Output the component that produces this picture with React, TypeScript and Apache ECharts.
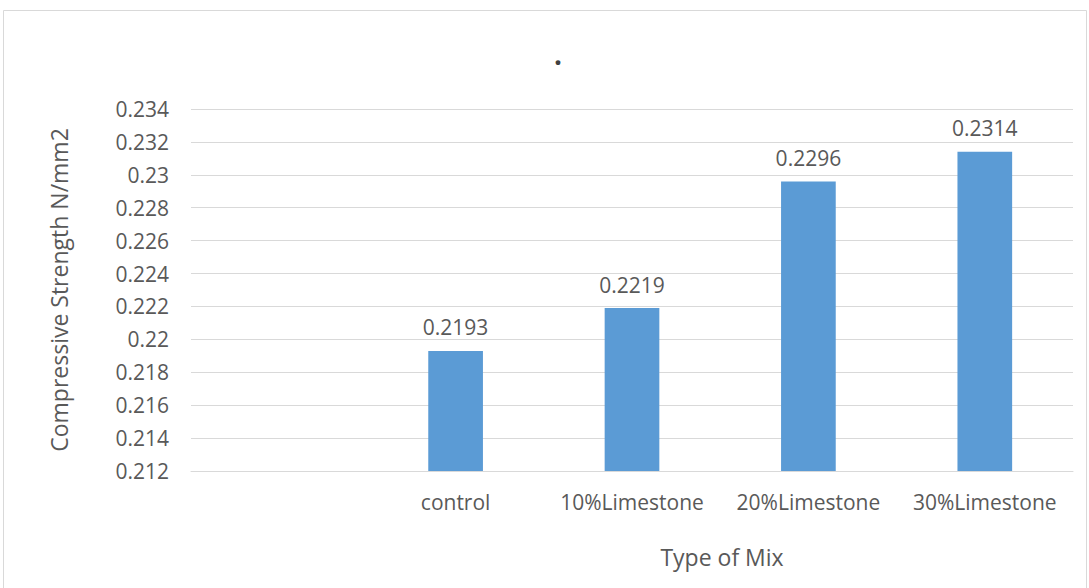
import React, { useEffect, useRef } from "react";
import * as echarts from "echarts";

const categories = ["", "control", "10%Limestone", "20%Limestone", "30%Limestone"];
const strengths: (number | null)[] = [null, 0.2193, 0.2219, 0.2296, 0.2314];
const yMin = 0.212;
const yMax = 0.234;
const yStep = 0.002;

const FONT = "'Open Sans', sans-serif";
const TEXT = "#595959";

export default function App() {
  const ref = useRef<HTMLDivElement>(null);
  useEffect(() => {
    if (!ref.current) return;
    const chart = echarts.init(ref.current, undefined, { renderer: "svg" });
    chart.setOption({
      animation: false,
      backgroundColor: "#ffffff",
      title: {
        text: ".",
        left: 553,
        top: 35,
        textAlign: "center",
        textStyle: { fontFamily: FONT, fontSize: 28, fontWeight: "bold", color: "#404040" },
      },
      graphic: [
        {
          type: "rect",
          shape: { x: 3.5, y: 10.5, width: 1083, height: 620 },
          style: { fill: "none", stroke: "#d9d9d9", lineWidth: 1 },
          silent: true,
          z: -10,
        },
        {
          type: "text",
          x: 722,
          y: 557,
          style: {
            text: "Type of Mix",
            fontFamily: FONT,
            fontSize: 23,
            fill: TEXT,
            align: "center",
            verticalAlign: "middle",
          },
        },
      ],
      grid: { left: 191, right: 16, top: 109, bottom: 117, containLabel: false },
      xAxis: {
        type: "category",
        data: categories,
        axisLine: { show: true, lineStyle: { color: "#d9d9d9", width: 1 } },
        axisTick: { show: false },
        axisLabel: { fontFamily: FONT, fontSize: 21, color: TEXT, margin: 20, interval: 0 },
        splitLine: { show: false },
      },
      yAxis: {
        type: "value",
        min: yMin,
        max: yMax,
        interval: yStep,
        name: "Compressive Strength N/mm2",
        nameLocation: "middle",
        nameGap: 121,
        nameTextStyle: { fontFamily: FONT, fontSize: 23, color: TEXT },
        axisLine: { show: false },
        axisTick: { show: false },
        axisLabel: {
          fontFamily: FONT,
          fontSize: 21,
          color: TEXT,
          margin: 22,
          formatter: (v: number) => String(parseFloat(v.toFixed(4))),
        },
        splitLine: { lineStyle: { color: "#d9d9d9", width: 1 } },
      },
      series: [
        {
          type: "bar",
          data: strengths,
          barWidth: "31%",
          itemStyle: { color: "#5b9bd5" },
          label: {
            show: true,
            position: "top",
            distance: 13,
            fontFamily: FONT,
            fontSize: 21,
            color: TEXT,
            formatter: (p: any) => (p.value == null ? "" : String(p.value)),
          },
        },
      ],
    });
    return () => chart.dispose();
  }, []);
  return (
    <div
      ref={ref}
      style={{ position: "absolute", left: 0, top: 0, width: 1089, height: 588 }}
    />
  );
}
